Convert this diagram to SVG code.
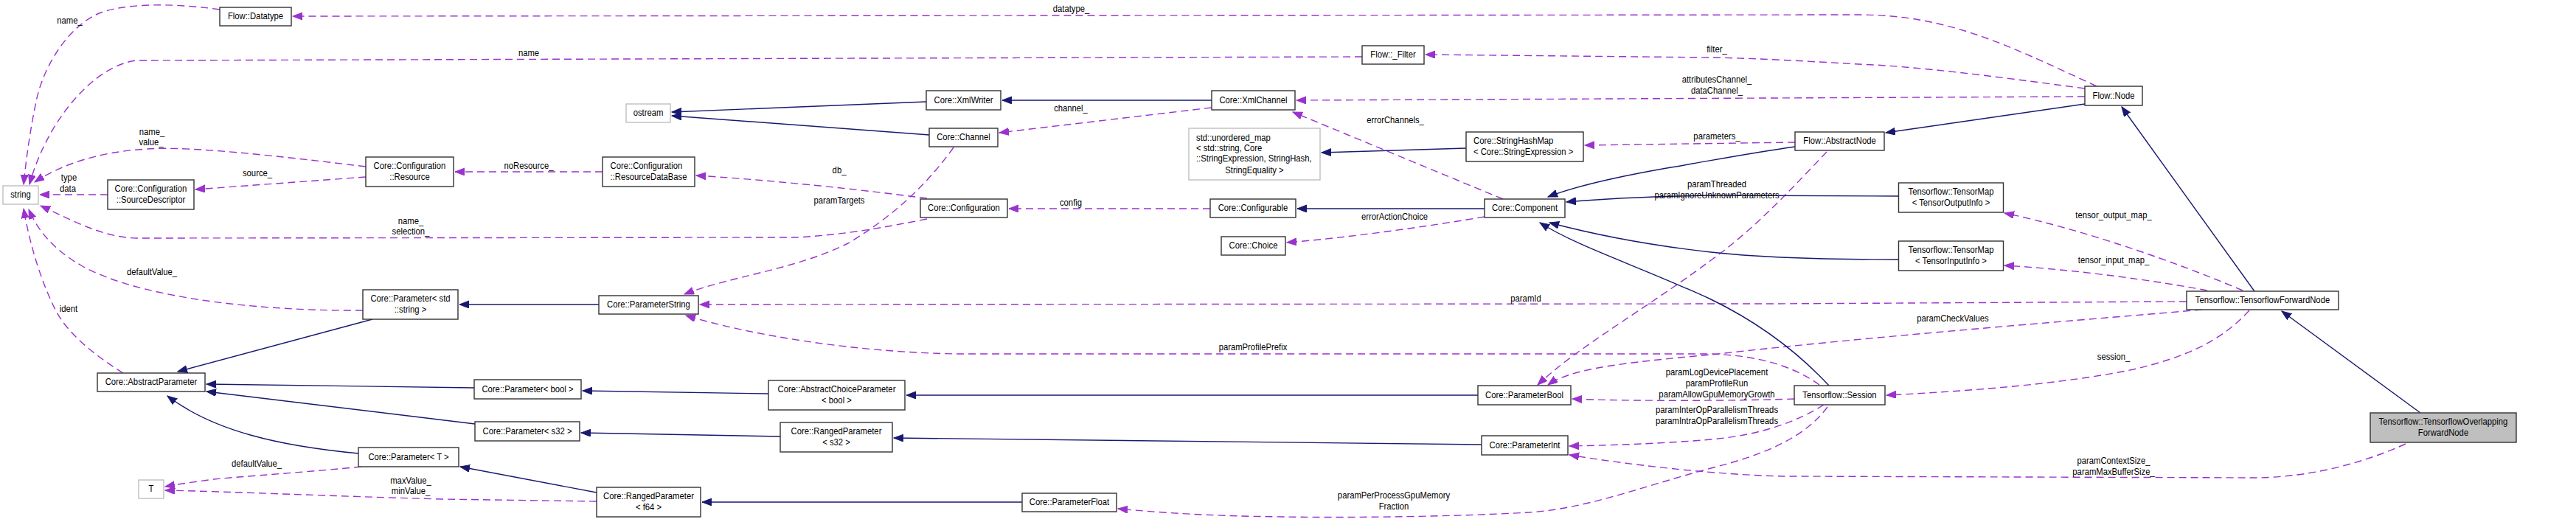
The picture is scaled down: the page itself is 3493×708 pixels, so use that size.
<svg xmlns="http://www.w3.org/2000/svg" width="3493" height="708" viewBox="0 0 3493 708">
<style>
text{font-family:"Liberation Sans",Arial,Helvetica,sans-serif;font-size:12.4px;fill:#000;transform-box:fill-box;transform-origin:center;transform:scaleX(0.91)}
text.L{transform-origin:left center}
.c{text-anchor:middle}
.n rect{fill:#fff;stroke:#333;stroke-width:1.4}
.g rect{fill:#fff;stroke:#bfbfbf;stroke-width:1.4}
.h rect{fill:#bfbfbf;stroke:#333;stroke-width:1.4}
.u{fill:none;stroke:#9a32cd;stroke-width:1.4;stroke-dasharray:10,6;marker-end:url(#ap)}
.i{fill:none;stroke:#191970;stroke-width:1.4;marker-end:url(#ab)}
</style>
<defs>
<marker id="ap" markerUnits="userSpaceOnUse" markerWidth="15" markerHeight="12" refX="13" refY="5" orient="auto"><path d="M0,0 L13,5 L0,10 z" fill="#9a32cd" stroke="#9a32cd" stroke-dasharray="none"/></marker>
<marker id="ab" markerUnits="userSpaceOnUse" markerWidth="15" markerHeight="12" refX="13" refY="5" orient="auto"><path d="M0,0 L13,5 L0,10 z" fill="#191970" stroke="#191970" stroke-dasharray="none"/></marker>
</defs>
<rect width="3493" height="708" fill="#fff"/>
<g id="connectors">
<path class="u" d="M2843,117 C2720,60 2640,20 2520,20 L397,22"/>
<path class="u" d="M2827,120 C2700,103 2600,90 2520,87 C2450,83 2380,79 2320,78 L1933,74"/>
<path class="u" d="M2827,131 L1758,136"/>
<path class="u" d="M1847,77 L185,82 C130,88 65,160 40,250"/>
<path class="u" d="M298,13 C230,3 160,5 130,20 C90,40 60,90 50,133 C42,170 36,210 32,250"/>
<path class="u" d="M496,226 C380,212 260,198 200,202 C130,206 80,225 47,247"/>
<path class="u" d="M496,240 L265,257"/>
<path class="u" d="M146,264 L54,264"/>
<path class="u" d="M1257,297 C1200,308 1150,318 1080,322 L185,323 C140,322 100,300 55,279"/>
<path class="u" d="M817,233 L617,233"/>
<path class="u" d="M1257,269 C1150,255 1040,244 944,238"/>
<path class="u" d="M1293,200 C1250,260 1200,300 1150,330 C1080,365 990,375 928,399"/>
<path class="u" d="M1643,146 L1355,180"/>
<path class="u" d="M1641,283 L1368,283"/>
<path class="u" d="M2038,270 L1753,152"/>
<path class="u" d="M2013,294 C1930,308 1830,322 1745,329"/>
<path class="u" d="M2434,193 L2149,197"/>
<path class="u" d="M2477,206 C2430,255 2380,310 2320,353 C2230,420 2140,470 2085,522"/>
<path class="u" d="M3041,394 C2950,355 2820,310 2718,289"/>
<path class="u" d="M2993,394 C2930,382 2820,366 2718,360"/>
<path class="u" d="M2965,409 L2400,412 L949,413"/>
<path class="u" d="M2986,420 C2850,432 2550,455 2320,481 C2200,492 2130,500 2099,522"/>
<path class="u" d="M2467,522 C2430,495 2380,482 2320,480 L1300,480 C1160,478 1020,455 930,428"/>
<path class="u" d="M3050,421 C3010,465 2960,485 2893,501 C2800,520 2680,530 2558,536"/>
<path class="u" d="M2433,541 C2350,544 2200,544 2132,541"/>
<path class="u" d="M2473,549 C2440,570 2390,590 2320,596 C2250,602 2180,604 2128,605"/>
<path class="u" d="M2478,552 C2450,590 2400,615 2320,635 C2220,662 2150,690 2073,695 C1950,702 1800,702 1740,701 C1640,700 1570,695 1516,690"/>
<path class="u" d="M3262,602 C3200,630 3130,647 3060,648 L2420,646 C2330,644 2220,632 2128,617"/>
<path class="u" d="M492,421 C330,422 180,400 110,360 C70,337 50,310 39,284"/>
<path class="u" d="M167,506 C125,480 90,450 75,420 C55,380 40,330 32,283"/>
<path class="u" d="M490,633 C420,640 330,646 290,650 C260,654 240,657 224,660"/>
<path class="u" d="M809,680 L600,677 C450,673 320,667 224,665"/>
<path class="i" d="M1256,138 L911,152"/>
<path class="i" d="M1260,183 L911,157"/>
<path class="i" d="M1643,136 L1359,136"/>
<path class="i" d="M1988,201 L1792,207"/>
<path class="i" d="M2013,283 L1759,283"/>
<path class="i" d="M2434,199 C2370,208 2320,218 2260,228 C2180,242 2130,255 2099,267"/>
<path class="i" d="M2574.5,266 L2330,265 C2250,266 2170,270 2124,274"/>
<path class="i" d="M2574.5,352 C2480,352 2390,350 2320,342 C2230,332 2150,315 2101,302"/>
<path class="i" d="M2480,523 C2440,480 2390,440 2320,406 C2220,360 2140,335 2088,302"/>
<path class="i" d="M2827,141 L2557,180"/>
<path class="i" d="M3057,395 L2877,145"/>
<path class="i" d="M3282,560 L3094,422"/>
<path class="i" d="M812,413 L623,413"/>
<path class="i" d="M505,433 L241,504"/>
<path class="i" d="M643,526 L280,521"/>
<path class="i" d="M644,575 L280,531"/>
<path class="i" d="M486,615 C380,605 290,585 227,537"/>
<path class="i" d="M1042,534 L790,530"/>
<path class="i" d="M2004,536 L1229,536"/>
<path class="i" d="M1058,592 L788,587"/>
<path class="i" d="M2009,603 L1212,594"/>
<path class="i" d="M809,668 L624,633"/>
<path class="i" d="M1386,681 L952,681"/>
</g>
<g id="edge-labels">
<text class="c" x="94.5" y="32.5">name_</text>
<text class="c" x="717" y="76.5">name</text>
<text class="c" x="1452.5" y="16.5">datatype_</text>
<text class="c" x="2328" y="71.5">filter_</text>
<text class="c" x="2328" y="112.5">attributesChannel_</text>
<text class="c" x="2328" y="127.5">dataChannel_</text>
<text class="c" x="1452" y="151.5">channel_</text>
<text class="c" x="1892" y="167.5">errorChannels_</text>
<text class="c" x="2328" y="189.5">parameters_</text>
<text class="c" x="206" y="183.5">name_</text>
<text class="c" x="205" y="197.5">value_</text>
<text class="c" x="349" y="239.5">source_</text>
<text class="c" x="93.5" y="245.5">type</text>
<text class="c" x="92" y="260.5">data</text>
<text class="c" x="717" y="229.5">noResource_</text>
<text class="c" x="1138" y="235.5">db_</text>
<text class="c" x="2328" y="254.5">paramThreaded</text>
<text class="c" x="2328" y="269.5">paramIgnoreUnknownParameters</text>
<text class="c" x="1138" y="276.5">paramTargets</text>
<text class="c" x="1452" y="279.5">config</text>
<text class="c" x="2866" y="295.5">tensor_output_map_</text>
<text class="c" x="1891" y="298.5">errorActionChoice</text>
<text class="c" x="557" y="304.5">name_</text>
<text class="c" x="557" y="318.5">selection_</text>
<text class="c" x="2866" y="357.5">tensor_input_map_</text>
<text class="c" x="206" y="373.5">defaultValue_</text>
<text class="c" x="2069" y="409.5">paramId</text>
<text class="c" x="93" y="423.5">ident</text>
<text class="c" x="2648" y="436.5">paramCheckValues</text>
<text class="c" x="1699" y="475.5">paramProfilePrefix</text>
<text class="c" x="2866" y="488.5">session_</text>
<text class="c" x="2328" y="509.5">paramLogDevicePlacement</text>
<text class="c" x="2328" y="524.5">paramProfileRun</text>
<text class="c" x="2328" y="539.5">paramAllowGpuMemoryGrowth</text>
<text class="c" x="2328" y="560.5">paramInterOpParallelismThreads</text>
<text class="c" x="2328" y="575.5">paramIntraOpParallelismThreads</text>
<text class="c" x="2866" y="629.5">paramContextSize_</text>
<text class="c" x="2866" y="644.5">paramMaxBufferSize_</text>
<text class="c" x="348" y="633.5">defaultValue_</text>
<text class="c" x="557" y="656.5">maxValue_</text>
<text class="c" x="557" y="670.5">minValue_</text>
<text class="c" x="1890" y="676.5">paramPerProcessGpuMemory</text>
<text class="c" x="1890" y="691.5">Fraction</text>
</g>
<g id="n-datatype" class="n"><rect x="298" y="10" width="97" height="25"/><text class="c" x="346.5" y="26.5">Flow::Datatype</text></g>
<g id="n-filter" class="n"><rect x="1847" y="62" width="84" height="25"/><text class="c" x="1889" y="78.5">Flow::_Filter</text></g>
<g id="n-node" class="n"><rect x="2827" y="117" width="78" height="26"/><text class="c" x="2866" y="134">Flow::Node</text></g>
<g id="n-string" class="g"><rect x="4" y="252" width="48" height="25"/><text class="c" x="28" y="268.5">string</text></g>
<g id="n-ostream" class="g"><rect x="849" y="141" width="60" height="25"/><text class="c" x="879" y="157.5">ostream</text></g>
<g id="n-xmlwriter" class="n"><rect x="1256" y="123" width="101" height="26"/><text class="c" x="1306.5" y="140">Core::XmlWriter</text></g>
<g id="n-xmlchannel" class="n"><rect x="1643" y="123" width="113" height="26"/><text class="c" x="1699.5" y="140">Core::XmlChannel</text></g>
<g id="n-channel" class="n"><rect x="1260" y="174" width="93" height="25"/><text class="c" x="1306.5" y="190.5">Core::Channel</text></g>
<g id="n-unordered" class="g"><rect x="1612" y="174" width="178" height="70"/><text class="L" x="1622" y="190.7">std::unordered_map</text><text class="L" x="1622" y="204.7">&lt; std::string, Core</text><text class="L" x="1622" y="219.3">::StringExpression, StringHash,</text><text class="c" x="1701" y="234.7">StringEquality &gt;</text></g>
<g id="n-stringhashmap" class="n"><rect x="1988" y="179" width="159" height="40"/><text class="L" x="1998" y="195.5">Core::StringHashMap</text><text class="L" x="1998" y="210">&lt; Core::StringExpression &gt;</text></g>
<g id="n-abstractnode" class="n"><rect x="2434" y="179" width="121" height="25"/><text class="c" x="2494.5" y="195.5">Flow::AbstractNode</text></g>
<g id="n-resource" class="n"><rect x="496" y="213" width="119" height="40"/><text class="c" x="555.5" y="229.5">Core::Configuration</text><text class="c" x="555.5" y="244">::Resource</text></g>
<g id="n-resourcedb" class="n"><rect x="817" y="213" width="125" height="40"/><text class="L" x="827.5" y="229.5">Core::Configuration</text><text class="L" x="827.5" y="244">::ResourceDataBase</text></g>
<g id="n-sourcedesc" class="n"><rect x="146" y="244" width="117" height="40"/><text class="c" x="204.5" y="260.5">Core::Configuration</text><text class="c" x="204.5" y="275">::SourceDescriptor</text></g>
<g id="n-tensormap-out" class="n"><rect x="2574.5" y="248" width="142" height="40"/><text class="c" x="2645.5" y="264.5">Tensorflow::TensorMap</text><text class="c" x="2645.5" y="279">&lt; TensorOutputInfo &gt;</text></g>
<g id="n-configuration" class="n"><rect x="1248" y="270" width="118" height="25"/><text class="c" x="1307" y="286.5">Core::Configuration</text></g>
<g id="n-configurable" class="n"><rect x="1641" y="270" width="116" height="25"/><text class="c" x="1699" y="286.5">Core::Configurable</text></g>
<g id="n-component" class="n"><rect x="2013" y="270" width="109" height="25"/><text class="c" x="2067.5" y="286.5">Core::Component</text></g>
<g id="n-choice" class="n"><rect x="1656" y="321" width="87" height="25"/><text class="c" x="1699.5" y="337.5">Core::Choice</text></g>
<g id="n-tensormap-in" class="n"><rect x="2574.5" y="327" width="142" height="40"/><text class="c" x="2645.5" y="343.5">Tensorflow::TensorMap</text><text class="c" x="2645.5" y="358">&lt; TensorInputInfo &gt;</text></g>
<g id="n-param-stdstring" class="n"><rect x="492" y="393" width="129" height="40"/><text class="c" x="556.5" y="409.5">Core::Parameter&lt; std</text><text class="c" x="556.5" y="424">::string &gt;</text></g>
<g id="n-parameterstring" class="n"><rect x="812" y="401" width="135" height="25"/><text class="c" x="879.5" y="417.5">Core::ParameterString</text></g>
<g id="n-tfforwardnode" class="n"><rect x="2965" y="395" width="206" height="25"/><text class="c" x="3068" y="411.5">Tensorflow::TensorflowForwardNode</text></g>
<g id="n-abstractparameter" class="n"><rect x="132" y="506" width="146" height="25"/><text class="c" x="205" y="522.5">Core::AbstractParameter</text></g>
<g id="n-param-bool" class="n"><rect x="643" y="515" width="145" height="26"/><text class="c" x="715.5" y="532">Core::Parameter&lt; bool &gt;</text></g>
<g id="n-abstractchoice" class="n"><rect x="1042" y="516" width="185" height="40"/><text class="c" x="1134.5" y="532.5">Core::AbstractChoiceParameter</text><text class="c" x="1134.5" y="547">&lt; bool &gt;</text></g>
<g id="n-parameterbool" class="n"><rect x="2004" y="523" width="126" height="26"/><text class="c" x="2067" y="540">Core::ParameterBool</text></g>
<g id="n-session" class="n"><rect x="2433" y="523" width="123" height="26"/><text class="c" x="2494.5" y="540">Tensorflow::Session</text></g>
<g id="n-overlapping" class="h"><rect x="3214" y="560" width="198" height="40"/><text class="c" x="3313" y="576.5">Tensorflow::TensorflowOverlapping</text><text class="c" x="3313" y="591">ForwardNode</text></g>
<g id="n-param-s32" class="n"><rect x="644" y="572" width="142" height="26"/><text class="c" x="715" y="589">Core::Parameter&lt; s32 &gt;</text></g>
<g id="n-ranged-s32" class="n"><rect x="1058" y="573" width="152" height="40"/><text class="c" x="1134" y="589.5">Core::RangedParameter</text><text class="c" x="1134" y="604">&lt; s32 &gt;</text></g>
<g id="n-parameterint" class="n"><rect x="2009" y="591" width="117" height="26"/><text class="c" x="2067.5" y="608">Core::ParameterInt</text></g>
<g id="n-param-t" class="n"><rect x="486" y="607" width="136" height="26"/><text class="c" x="554" y="624">Core::Parameter&lt; T &gt;</text></g>
<g id="n-t" class="g"><rect x="188" y="651" width="34" height="25"/><text class="c" x="205" y="667.5">T</text></g>
<g id="n-ranged-f64" class="n"><rect x="809" y="661" width="141" height="40"/><text class="c" x="879.5" y="677.5">Core::RangedParameter</text><text class="c" x="879.5" y="692">&lt; f64 &gt;</text></g>
<g id="n-parameterfloat" class="n"><rect x="1386" y="669" width="128" height="25"/><text class="c" x="1450" y="685.5">Core::ParameterFloat</text></g>
</svg>
